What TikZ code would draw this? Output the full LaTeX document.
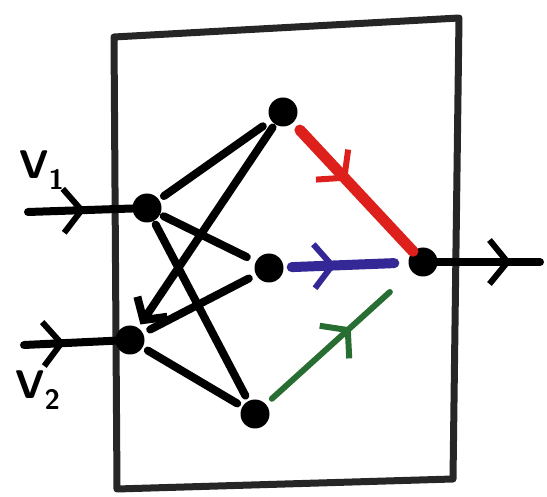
\documentclass[tikz,border=0pt]{standalone}
\usetikzlibrary{arrows.meta,decorations.markings}
\definecolor{penred}{RGB}{222,32,28}
\definecolor{penblue}{RGB}{52,40,150}
\definecolor{pengreen}{RGB}{40,110,50}
\tikzset{
  x=1pt, y=-1pt,
  dot/.style={circle, fill=black, inner sep=0pt, minimum width=26pt, minimum height=29pt},
  wire/.style={line width=8pt, line cap=round},
  frame/.style={line width=7pt, draw=black!85, line join=round},
  midarrow/.style={postaction={decorate}, decoration={markings,
      mark=at position #1 with {\arrow[line width=6pt]{Straight Barb[length=18pt, width=44pt]}}}},
  lbl/.style={font=\sffamily\bfseries\fontsize{40}{40}\selectfont, inner sep=0pt}
}
\begin{document}
\begin{tikzpicture}
\useasboundingbox (0,0) rectangle (547,497);
% frame
\draw[frame] (114,37) -- (459,18) -- (453,479) -- (117,489) -- cycle;
% nodes
\node[dot] (i1) at (147,208) {};
\node[dot] (i2) at (130,340) {};
\node[dot] (h1) at (283,112) {};
\node[dot] (h2) at (269,268) {};
\node[dot] (h3) at (255,414) {};
\node[dot] (o) at (423,262) {};
\coordinate (a1) at (28,212);
\coordinate (a2) at (24,345);
\coordinate (oe) at (540,262);
% labels
\node[lbl] (v1) at (42,170) {V\textsubscript{1}};
\node[lbl] (v2) at (38,390) {V\textsubscript{2}};
% inputs
\draw[wire, midarrow=0.55] (a1) -- (i1);
\draw[wire, midarrow=0.45] (a2) -- (i2);
% hidden connections
\draw[wire, shorten <=6pt, shorten >=10pt] (i1) -- (h1);
\draw[wire, shorten <=4pt, shorten >=10pt] (i1) -- (h2);
\draw[wire, shorten <=4pt, shorten >=6pt] (i1) -- (h3);
\draw[wire, shorten <=4pt, shorten >=4pt, -{Straight Barb[length=16pt,width=36pt]}] (h1) -- (i2);
\draw[wire, shorten <=8pt, shorten >=8pt] (i2) -- (h2);
\draw[wire, shorten <=6pt, shorten >=6pt] (i2) -- (h3);
% coloured outputs
\draw[line width=11pt, penred, line cap=round, shorten <=10pt, shorten >=0pt, midarrow=0.45] (h1) -- (o);
\draw[line width=10pt, penblue, line cap=round, shorten <=8pt, shorten >=14pt, midarrow=0.42] (h2) -- (o);
\draw[line width=6pt, pengreen, line cap=round, shorten <=8pt, shorten >=30pt, midarrow=0.58] (h3) -- (o);
% output
\draw[wire, midarrow=0.72] (o) -- (oe);
\end{tikzpicture}
\end{document}
